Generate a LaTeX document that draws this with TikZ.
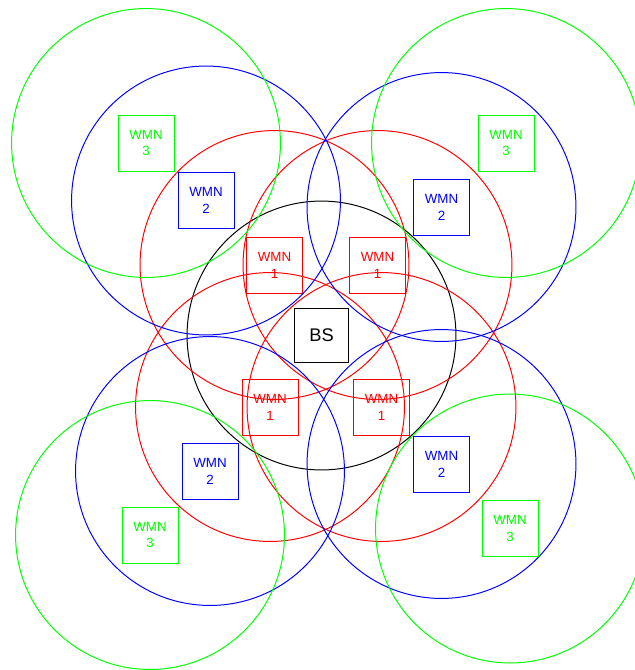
\documentclass[tikz,border=0pt]{standalone}
\usepackage{fontspec}
\setmainfont{Liberation Sans}
\usepackage{tikz}
\definecolor{hopred}{RGB}{255,0,0}
\definecolor{hopblue}{RGB}{0,0,255}
\definecolor{hopgreen}{RGB}{0,255,0}
\tikzset{
    coverage/.style={draw=#1,line width=0.7pt},
    wmn box/.style={
        draw=#1,text=#1,line width=0.7pt,
        minimum size=1.4cm,inner sep=0pt,align=center,
        font=\fontsize{9.5}{12}\selectfont
    },
    bs box/.style={
        draw,line width=0.7pt,
        minimum size=1.33cm,inner sep=0pt,
        font=\fontsize{13}{15}\selectfont
    }
}
\begin{document}
\begin{tikzpicture}[x=0.025cm,y=-0.025cm]
\useasboundingbox (0,0) rectangle (635,670);
\clip (0,0) rectangle (635,670);
% base station
\node[bs box] (bs) at (321.5,335.5) {BS};
\draw[coverage=black] (bs.center) circle[radius=3.36cm];
% first hop
\foreach \i/\x/\y in {1/274.5/265,2/377.5/265,3/270/407,4/381.5/407}{
    \node[wmn box=hopred] (wmn1_\i) at (\x,\y) {WMN\\1};
    \draw[coverage=hopred] (wmn1_\i.center) circle[radius=3.36cm];
}
% second hop
\foreach \i/\x/\y in {1/206/200.5,2/441.5/207,3/210/471,4/441.5/464}{
    \node[wmn box=hopblue] (wmn2_\i) at (\x,\y) {WMN\\2};
    \draw[coverage=hopblue] (wmn2_\i.center) circle[radius=3.36cm];
}
% third hop
\foreach \i/\x/\y in {1/146/143,2/506/143,3/150/535,4/510/528.5}{
    \node[wmn box=hopgreen] (wmn3_\i) at (\x,\y) {WMN\\3};
    \draw[coverage=hopgreen] (wmn3_\i.center) circle[radius=3.36cm];
}
\end{tikzpicture}
\end{document}
